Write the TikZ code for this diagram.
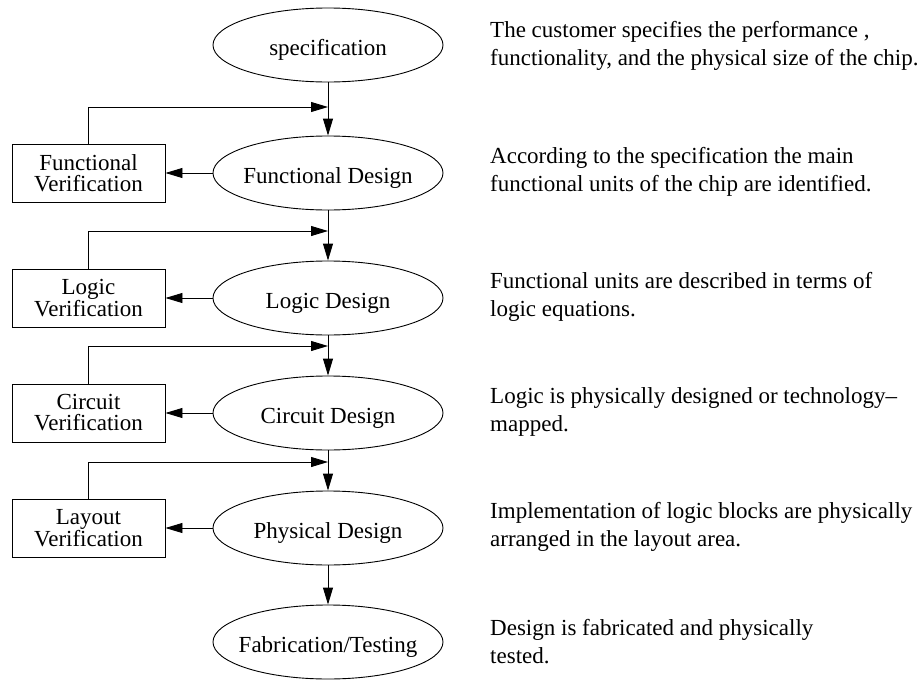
\documentclass[tikz,border=0pt]{standalone}
\usepackage{fontspec}
\setmainfont{Liberation Serif}
\usetikzlibrary{shapes.geometric,arrows.meta}
\newcommand{\stagetext}[1]{\makebox[0pt]{#1}}
\tikzset{
  stage/.style={ellipse,draw,line width=0.9pt,minimum width=230pt,
    minimum height=74pt,inner sep=0pt,text height=20pt,text depth=0pt},
  check/.style={rectangle,draw,line width=0.9pt,minimum width=153pt,
    minimum height=58pt,inner sep=0pt,align=center,
    font=\fontsize{23}{21}\selectfont},
  flow/.style={draw,line width=0.9pt,-{Triangle[length=17pt,width=10pt]}},
  note/.style={anchor=west,align=left,inner sep=0pt,
    font=\fontsize{23}{28}\selectfont}
}

\begin{document}
\begin{tikzpicture}[x=1pt,y=-1pt,font=\fontsize{23}{28}\selectfont]
  \useasboundingbox (0,0) rectangle (924,680);
  % design flow
  \node[stage] (spec) at (328,45) {\stagetext{specification}};
  \node[stage] (fd) at (328,173) {\stagetext{Functional Design}};
  \node[stage] (ld) at (328,298) {\stagetext{Logic Design}};
  \node[stage] (cd) at (328,413) {\stagetext{Circuit Design}};
  \node[stage] (pd) at (328,528) {\stagetext{Physical Design}};
  \node[stage] (ft) at (328,642) {\stagetext{Fabrication/Testing}};
  \draw[flow] (spec) -- (fd);
  \draw[flow] (fd) -- (ld);
  \draw[flow] (ld) -- (cd);
  \draw[flow] (cd) -- (pd);
  \draw[flow] (pd) -- (ft);
  % verification loops
  \node[check] (fv) at (88.5,173) {Functional\\Verification};
  \node[check] (lv) at (88.5,298) {Logic\\Verification};
  \node[check] (cv) at (88.5,413) {Circuit\\Verification};
  \node[check] (pv) at (88.5,528) {Layout\\Verification};
  \coordinate (fb1) at (328,107);
  \coordinate (fb2) at (328,231);
  \coordinate (fb3) at (328,346);
  \coordinate (fb4) at (328,462);
  \foreach \d/\v/\f in {fd/fv/fb1,ld/lv/fb2,cd/cv/fb3,pd/pv/fb4}{
    \draw[flow] (\d) -- (\v);
    \draw[flow] (\v.north) |- (\f);
  }
  % descriptions
  \node[note] (n1) at (490,46) {The customer specifies the performance ,\\
    functionality, and the physical size of the chip.};
  \node[note] (n2) at (490,172) {According to the specification the main\\
    functional units of the chip are identified.};
  \node[note] (n3) at (490,297) {Functional units are described in terms of\\
    logic equations.};
  \node[note] (n4) at (490,412) {Logic is physically designed or technology–\\
    mapped.};
  \node[note] (n5) at (490,527) {Implementation of logic blocks are physically\\
    arranged in the layout area.};
  \node[note] (n6) at (490,642) {Design is fabricated and physically\\
    tested.};
\end{tikzpicture}
\end{document}
